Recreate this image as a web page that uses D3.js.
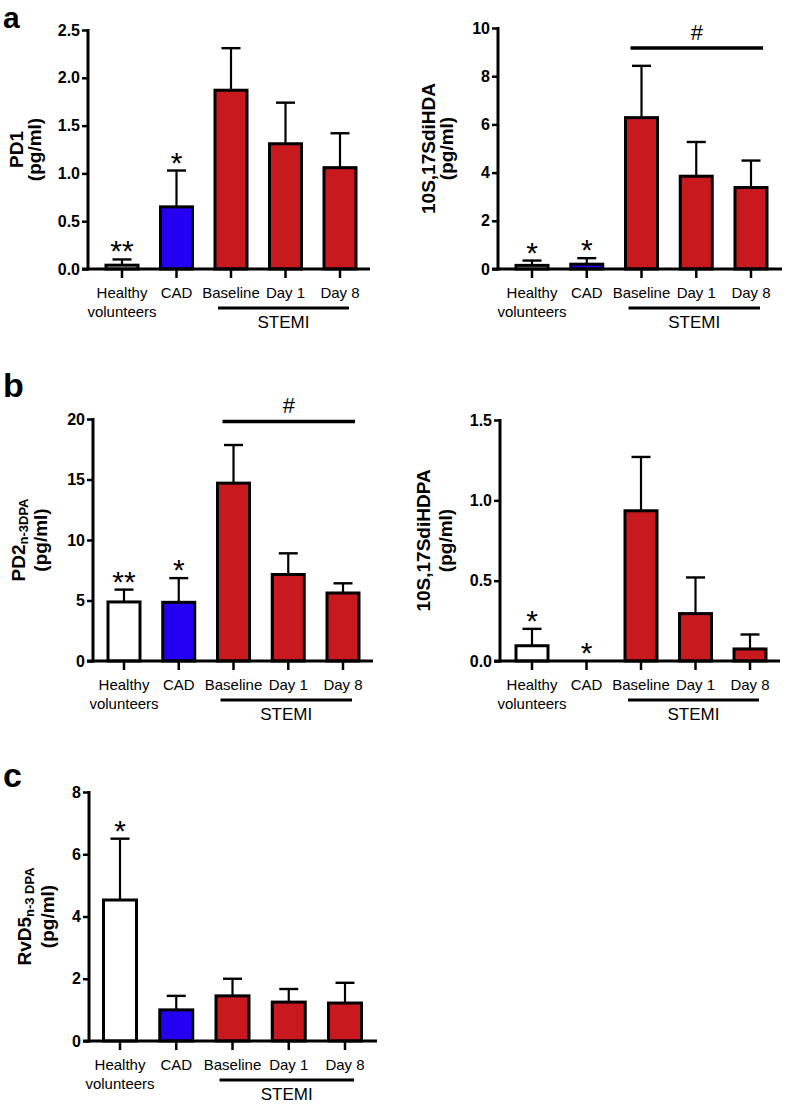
<!DOCTYPE html>
<html><head><meta charset="utf-8">
<script src="https://cdn.jsdelivr.net/npm/d3@7"></script>
<style>body{margin:0;background:#fff}svg{display:block}</style>
</head><body><svg id="c" width="785" height="1104"></svg>
<script>
// ---------- data ----------
const categories = ["Healthy volunteers", "CAD", "Baseline", "Day 1", "Day 8"];
const categoryLines = [["Healthy", "volunteers"], ["CAD"], ["Baseline"], ["Day 1"], ["Day 8"]];
const groupLabel = "STEMI";
const groupMembers = ["Baseline", "Day 1", "Day 8"];
const barColors = ["#ffffff", "#2400f2", "#c81a1e", "#c81a1e", "#c81a1e"];

const pd1Mean = [0.04, 0.65, 1.87, 1.31, 1.06];
const pd1Err  = [0.06, 0.38, 0.44, 0.43, 0.36];
const pd1Sig  = ["**", "*", "", "", ""];
const pd1Ticks = [0, 0.5, 1.0, 1.5, 2.0, 2.5];

const hdaMean = [0.15, 0.20, 6.28, 3.85, 3.38];
const hdaErr  = [0.20, 0.25, 2.15, 1.42, 1.12];
const hdaSig  = ["*", "*", "", "", ""];
const hdaTicks = [0, 2, 4, 6, 8, 10];

const pd2Mean = [4.88, 4.85, 14.70, 7.15, 5.62];
const pd2Err  = [1.02, 2.00, 3.15, 1.75, 0.80];
const pd2Sig  = ["**", "*", "", "", ""];
const pd2Ticks = [0, 5, 10, 15, 20];

const hdpaMean = [0.095, 0, 0.935, 0.295, 0.075];
const hdpaErr  = [0.105, 0, 0.335, 0.225, 0.090];
const hdpaSig  = ["*", "*", "", "", ""];
const hdpaTicks = [0, 0.5, 1.0, 1.5];

const rvd5Mean = [4.53, 1.00, 1.45, 1.25, 1.22];
const rvd5Err  = [1.97, 0.45, 0.55, 0.42, 0.65];
const rvd5Sig  = ["*", "", "", "", ""];
const rvd5Ticks = [0, 2, 4, 6, 8];

// ---------- drawing ----------
const svg = d3.select("#c");
const FONT = "'Liberation Sans', Arial, Helvetica, sans-serif";

function panel(o) {
  const y = d3.scaleLinear().domain([0, o.max]).range([o.y0, o.y1]);
  const x = d3.scalePoint().domain(categories).range([o.c0, o.c1]);
  const g = svg.append("g");
  const bw = o.bw || 32;
  const rows = categories.map((c, i) => ({c, i, v: o.mean[i], e: o.err[i], s: o.sig[i], lines: categoryLines[i], col: barColors[i]}));

  // error bars (behind bars)
  const eb = rows.filter(d => d.e > 0);
  g.selectAll("line.ev").data(eb).join("line")
    .attr("x1", d => x(d.c)).attr("x2", d => x(d.c))
    .attr("y1", d => y(d.v)).attr("y2", d => y(d.v + d.e))
    .attr("stroke", "#000").attr("stroke-width", 2.2);
  g.selectAll("line.ec").data(eb).join("line")
    .attr("x1", d => x(d.c) - 9.5).attr("x2", d => x(d.c) + 9.5)
    .attr("y1", d => y(d.v + d.e)).attr("y2", d => y(d.v + d.e))
    .attr("stroke", "#000").attr("stroke-width", 2.4);

  // bars
  g.selectAll("rect.bar").data(rows.filter(d => d.v > 0)).join("rect")
    .attr("x", d => x(d.c) - bw / 2).attr("y", d => y(d.v))
    .attr("width", bw).attr("height", d => y(0) - y(d.v))
    .attr("fill", d => d.col).attr("stroke", "#000").attr("stroke-width", 3);

  // significance
  g.selectAll("text.sig").data(rows.filter(d => d.s)).join("text")
    .attr("x", d => x(d.c)).attr("y", d => y(d.v + d.e) + 2)
    .attr("text-anchor", "middle").attr("font-family", FONT).attr("font-size", 30)
    .text(d => d.s);

  // y axis
  const ya = g.append("g").attr("transform", `translate(${o.ax},0)`)
    .call(d3.axisLeft(y).tickValues(o.ticks).tickFormat(o.fmt).tickSize(6).tickPadding(2));
  ya.select(".domain").remove();
  ya.selectAll(".tick line").attr("stroke", "#000").attr("stroke-width", 2.5);
  ya.selectAll(".tick text").attr("font-family", FONT).attr("font-weight", "bold")
    .attr("font-size", 16).attr("fill", "#000");
  g.append("line").attr("x1", o.ax).attr("x2", o.ax).attr("y1", y(o.max) - 1).attr("y2", y(0) + 1.5)
    .attr("stroke", "#000").attr("stroke-width", 3);
  // x axis
  g.append("line").attr("x1", o.ax - 6).attr("x2", o.xEnd).attr("y1", y(0)).attr("y2", y(0))
    .attr("stroke", "#000").attr("stroke-width", 3);
  g.selectAll("line.xt").data(rows).join("line")
    .attr("x1", d => x(d.c)).attr("x2", d => x(d.c)).attr("y1", y(0)).attr("y2", y(0) + 9)
    .attr("stroke", "#000").attr("stroke-width", 2.5);
  // x labels
  const lab = g.selectAll("text.xl").data(rows).join("text")
    .attr("text-anchor", "middle").attr("font-family", FONT).attr("font-size", 15)
    .attr("x", d => x(d.c)).attr("y", y(0) + 29);
  lab.selectAll("tspan").data(d => d.lines.map(l => ({l, xx: x(d.c)}))).join("tspan")
    .attr("x", t => t.xx).attr("dy", (t, i) => i === 0 ? 0 : 19).text(t => t.l);
  // group line
  const gx0 = x(groupMembers[0]) - 13, gx1 = x(groupMembers[groupMembers.length - 1]) + 9;
  g.append("line").attr("x1", gx0).attr("x2", gx1).attr("y1", y(0) + 39).attr("y2", y(0) + 39)
    .attr("stroke", "#000").attr("stroke-width", 3);
  g.append("text").attr("x", (gx0 + gx1) / 2).attr("y", y(0) + 59).attr("text-anchor", "middle")
    .attr("font-family", FONT).attr("font-size", 17).text(groupLabel);

  // hash
  if (o.hash !== undefined) {
    const hx0 = x(groupMembers[0]) - 11, hx1 = x(groupMembers[groupMembers.length - 1]) + 12;
    g.append("line").attr("x1", hx0).attr("x2", hx1).attr("y1", y(o.hash)).attr("y2", y(o.hash))
      .attr("stroke", "#000").attr("stroke-width", 3.5);
    g.append("text").attr("x", (hx0 + hx1) / 2).attr("y", y(o.hash) - 8).attr("text-anchor", "middle")
      .attr("font-family", FONT).attr("font-size", 22).text("#");
  }

  // y title
  const yc = (y(0) + y(o.max)) / 2;
  o.title.forEach((t) => {
    const tt = g.append("text").attr("transform", `translate(${t.x},${yc}) rotate(-90)`)
      .attr("text-anchor", "middle").attr("dominant-baseline", "central")
      .attr("font-family", FONT).attr("font-weight", "bold").attr("font-size", 19);
    tt.append("tspan").text(t.main);
    if (t.sub) tt.append("tspan").attr("font-size", 13).attr("dy", 5).text(t.sub);
  });
}

panel({mean: pd1Mean, err: pd1Err, sig: pd1Sig, ticks: pd1Ticks, fmt: d3.format(".1f"), max: 2.5,
  y0: 269, y1: 30, ax: 88, xEnd: 370, c0: 122, c1: 340,
  title: [{x: 16, main: "PD1"}, {x: 34, main: "(pg/ml)"}]});
panel({mean: hdaMean, err: hdaErr, sig: hdaSig, ticks: hdaTicks, fmt: d3.format("d"), max: 10,
  y0: 269, y1: 28, ax: 498, xEnd: 782, c0: 532, c1: 751, hash: 9.17,
  title: [{x: 428, main: "10S,17SdiHDA"}, {x: 446, main: "(pg/ml)"}]});
panel({mean: pd2Mean, err: pd2Err, sig: pd2Sig, ticks: pd2Ticks, fmt: d3.format("d"), max: 20,
  y0: 661, y1: 419, ax: 93, xEnd: 373, c0: 124, c1: 343, hash: 19.8,
  title: [{x: 18, main: "PD2", sub: "n-3DPA"}, {x: 40, main: "(pg/ml)"}]});
panel({mean: hdpaMean, err: hdpaErr, sig: hdpaSig, ticks: hdpaTicks, fmt: d3.format(".1f"), max: 1.5,
  y0: 661, y1: 420, ax: 500, xEnd: 780, c0: 532, c1: 750,
  title: [{x: 423, main: "10S,17SdiHDPA"}, {x: 445, main: "(pg/ml)"}]});
panel({mean: rvd5Mean, err: rvd5Err, sig: rvd5Sig, ticks: rvd5Ticks, fmt: d3.format("d"), max: 8,
  y0: 1041, y1: 792, ax: 89, xEnd: 377, c0: 120, c1: 345, bw: 33,
  title: [{x: 24, main: "RvD5", sub: "n-3 DPA"}, {x: 47, main: "(pg/ml)"}]});

// panel letters
[["a", 27.5, 30], ["b", 397, 34], ["c", 787, 34]].forEach(([t, yy, fs]) =>
  svg.append("text").attr("x", 3).attr("y", yy).attr("font-family", FONT)
    .attr("font-weight", "bold").attr("font-size", fs).text(t));
</script></body></html>
